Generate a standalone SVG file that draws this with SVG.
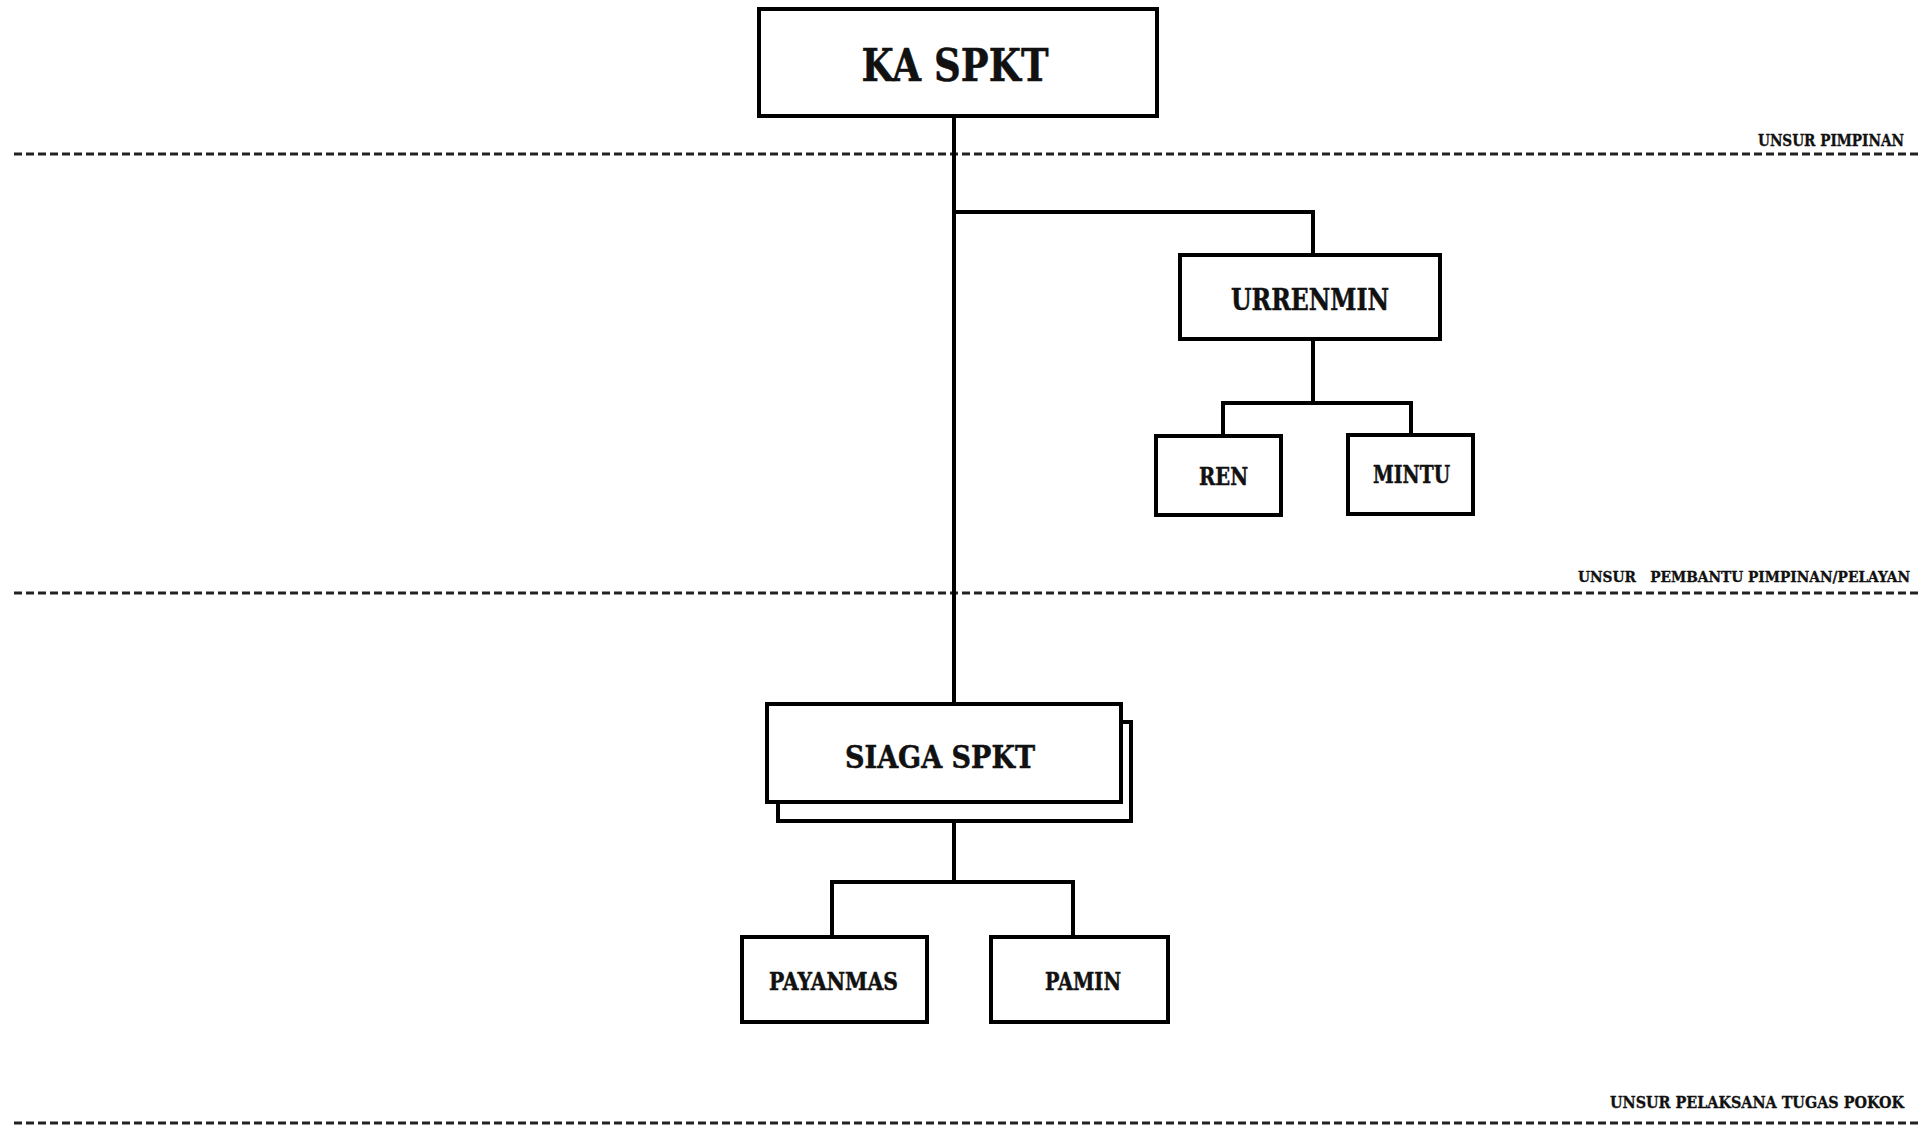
<svg xmlns="http://www.w3.org/2000/svg" width="1920" height="1126" viewBox="0 0 1920 1126">
<style>
.box{fill:#fff;stroke:#000;stroke-width:4}
.con{fill:none;stroke:#000;stroke-width:4}
.dash{fill:none;stroke:#222;stroke-width:3;stroke-dasharray:8 4}
text{font-family:"DejaVu Serif","Liberation Serif",serif;font-weight:bold;fill:#111;stroke:#111;stroke-width:0.5}
.lbl{font-family:"DejaVu Serif Condensed","DejaVu Serif","Liberation Serif",serif;font-size:16px;white-space:pre;stroke-width:0.3}
</style>
<rect width="1920" height="1126" fill="#fff"/>
<g id="separators">
<line class="dash" x1="14" y1="154" x2="1920" y2="154"/>
<line class="dash" x1="14" y1="593" x2="1920" y2="593"/>
<line class="dash" x1="14" y1="1123" x2="1920" y2="1123"/>
<text class="lbl" x="1758" y="146" textLength="146" lengthAdjust="spacingAndGlyphs">UNSUR PIMPINAN</text>
<text class="lbl" x="1578" y="582" font-size="15" style="font-size:15px" textLength="332" lengthAdjust="spacingAndGlyphs">UNSUR   PEMBANTU PIMPINAN/PELAYAN</text>
<text class="lbl" x="1610" y="1108" textLength="294" lengthAdjust="spacingAndGlyphs">UNSUR PELAKSANA TUGAS POKOK</text>
</g>
<g id="connectors">
<path class="con" d="M954 116 V704"/>
<path class="con" d="M954 212 H1313 V255"/>
<path class="con" d="M1313 339 V403 M1223 436 V403 H1411 V436"/>
<path class="con" d="M954 821 V882 M832 938 V882 H1073 V938"/>
</g>
<g id="ka-spkt">
<rect class="box" x="759" y="9" width="398" height="107"/>
<text x="955" y="81" font-size="44" text-anchor="middle" textLength="187" lengthAdjust="spacingAndGlyphs">KA SPKT</text>
</g>
<g id="urrenmin">
<rect class="box" x="1180" y="255" width="260" height="84"/>
<text x="1310" y="310" font-size="29" text-anchor="middle" textLength="158" lengthAdjust="spacingAndGlyphs">URRENMIN</text>
</g>
<g id="ren">
<rect class="box" x="1156" y="436" width="125" height="79"/>
<text x="1223.5" y="485" font-size="24" text-anchor="middle" textLength="49" lengthAdjust="spacingAndGlyphs">REN</text>
</g>
<g id="mintu">
<rect class="box" x="1348" y="435" width="125" height="79"/>
<text x="1411.5" y="483" font-size="24" text-anchor="middle" textLength="77" lengthAdjust="spacingAndGlyphs">MINTU</text>
</g>
<g id="siaga-spkt">
<rect class="box" x="778" y="722" width="353" height="99"/>
<rect class="box" x="767" y="704" width="354" height="98"/>
<text x="940" y="768" font-size="31" text-anchor="middle" textLength="190" lengthAdjust="spacingAndGlyphs">SIAGA SPKT</text>
</g>
<g id="payanmas">
<rect class="box" x="742" y="937" width="185" height="85"/>
<text x="833.5" y="990" font-size="24" text-anchor="middle" textLength="129" lengthAdjust="spacingAndGlyphs">PAYANMAS</text>
</g>
<g id="pamin">
<rect class="box" x="991" y="937" width="177" height="85"/>
<text x="1083" y="990" font-size="24" text-anchor="middle" textLength="76" lengthAdjust="spacingAndGlyphs">PAMIN</text>
</g>
</svg>
